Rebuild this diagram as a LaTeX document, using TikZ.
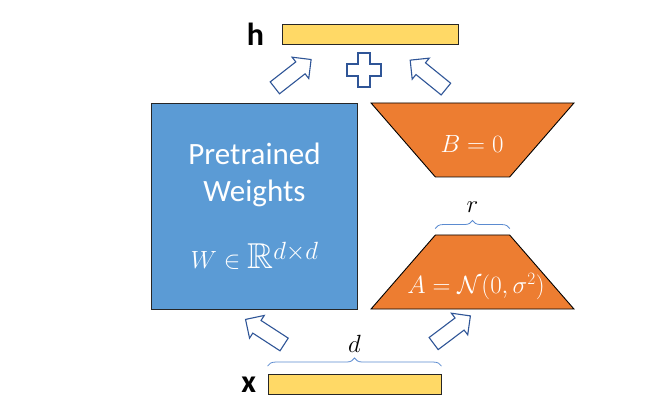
\documentclass[tikz,border=0pt]{standalone}
\usepackage{amsmath,amssymb}
\usepackage[no-math]{fontspec}
\setmainfont{Carlito}
\usepackage{xcolor}
\usepackage{tikz}
\usetikzlibrary{shapes,arrows,decorations.pathreplacing,positioning}

\definecolor{wblue}{HTML}{5B9BD5}
\definecolor{lorange}{HTML}{ED7D31}
\definecolor{vecyellow}{HTML}{FFD966}
\definecolor{arrowblue}{HTML}{2F5597}
\definecolor{braceblue}{HTML}{5B8BD0}

\begin{document}
\begin{tikzpicture}
[x=1pt,y=-1pt,
bar/.style={draw=black!85, fill=vecyellow, line width=0.9pt, minimum height=20pt, inner sep=0pt},
vec label/.style={font=\fontsize{32}{32}\selectfont\bfseries},
weight box/.style={draw=black!85, fill=wblue, line width=0.9pt, minimum size=206pt, inner sep=0pt,
  text=white, align=center, font=\fontsize{31}{37}\selectfont},
low rank/.style={trapezium, draw=black, fill=lorange, line width=0.9pt,
  trapezium left angle=52, trapezium right angle=52, trapezium stretches=true,
  minimum width=203pt, minimum height=74pt, inner sep=0pt},
factor text/.style={text=white, font=\fontsize{24}{24}\selectfont},
block arrow/.style={single arrow, draw=arrowblue, fill=white, line width=1.1pt, minimum height=46pt,
  inner sep=7pt, single arrow head extend=6pt, single arrow tip angle=90, single arrow head indent=0pt},
dim brace/.style={decorate, decoration={brace, amplitude=8pt}, draw=braceblue, line width=0.8pt},
dim label/.style={font=\fontsize{26}{26}\selectfont}]

  \useasboundingbox (0,0) rectangle (656,414);

  % input and output vectors
  \node[bar, minimum width=176pt] (h) at (370,34.5) {};
  \node[vec label, left=14pt of h] (h label) {h};
  \node[bar, minimum width=173pt] (x) at (354.5,384.5) {};
  \node[vec label, left=8pt of x] (x label) {x};

  % frozen weights and low-rank factors
  \node[weight box] (W) at (254.5,206.5)
    {Pretrained\\ Weights\\[30pt] {\fontsize{36}{37}\selectfont $W \in \mathbb{R}^{d\times d}$}};
  \node[low rank, shape border rotate=180] (B) at (472.5,140) {\phantom{A}};
  \node[factor text] (B text) at (472,144) {$B = 0$};
  \node[low rank] (A) at (472.5,272) {\phantom{A}};
  \node[factor text] (A text) at (476,287) {$A = \mathcal{N}(0,\sigma^2)$};

  % dimensions
  \draw[dim brace] ([yshift=6pt]A.top left corner) -- ([yshift=6pt]A.top right corner)
    node[midway, above=12pt, dim label] (r) {$r$};
  \draw[dim brace] ([yshift=8pt]x.north west) -- ([yshift=8pt]x.north east)
    node[midway, above=10pt, dim label] (d) {$d$};

  % block arrows
  \node[block arrow, rotate=38] (W out) at (290,76) {};
  \node[block arrow, rotate=141] (B out) at (431,77) {};
  \node[block arrow, rotate=147] (W in) at (268,334) {};
  \node[block arrow, rotate=37] (A in) at (449,332) {};

  % plus
  \draw[draw=arrowblue, fill=white, line width=1.1pt]
    (364,70) ++(-6,-17) -- ++(12,0) -- ++(0,11) -- ++(11,0) -- ++(0,12) -- ++(-11,0)
    -- ++(0,11) -- ++(-12,0) -- ++(0,-11) -- ++(-11,0) -- ++(0,-12) -- ++(11,0) -- cycle;

\end{tikzpicture}
\end{document}
